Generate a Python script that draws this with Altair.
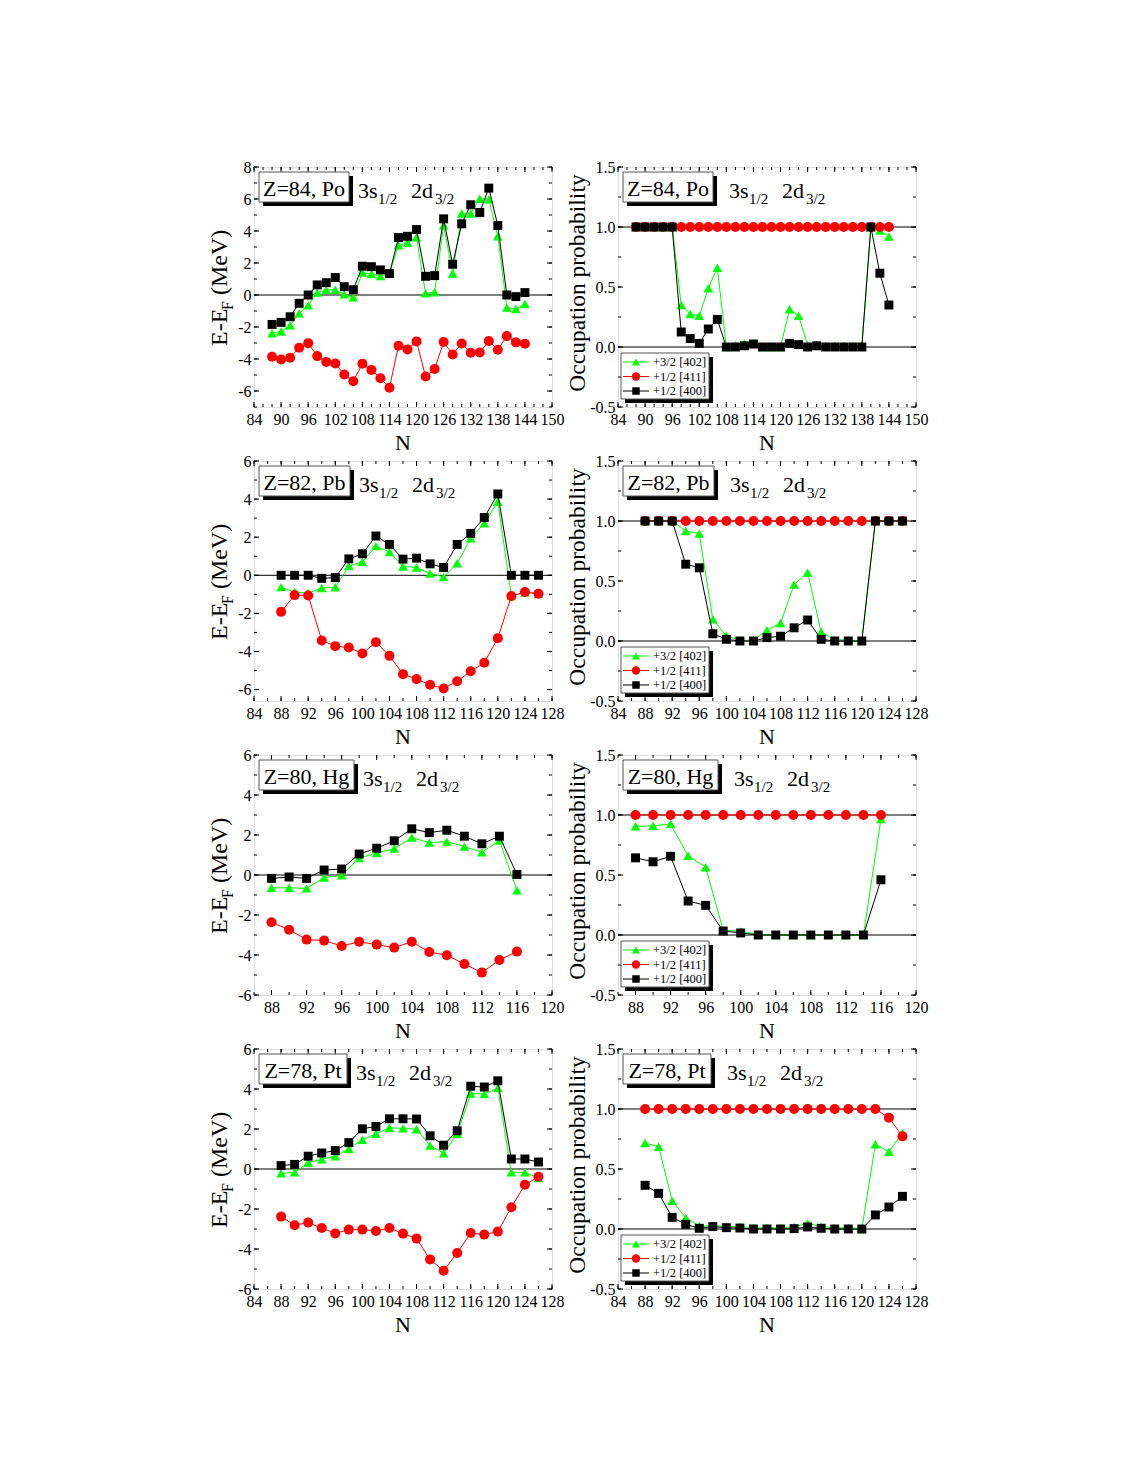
import altair as alt
import pandas as pd

FONT = "Liberation Serif"

# ---------------- data ----------------
N_PO = [88, 90, 92, 94, 96, 98, 100, 102, 104, 106, 108, 110, 112, 114, 116, 118, 120,
        122, 124, 126, 128, 130, 132, 134, 136, 138, 140, 142, 144]
PO_E_402 = [-2.40, -2.28, -1.90, -1.15, -0.65, 0.15, 0.31, 0.33, 0.04, -0.15, 1.40, 1.31, 1.19, 1.34,
            3.11, 3.26, 3.61, 0.10, 0.17, 4.36, 1.34, 5.09, 5.09, 6.01, 5.99, 3.67, -0.79, -0.88, -0.56]
PO_E_411 = [-3.86, -4.03, -3.92, -3.30, -3.01, -3.82, -4.18, -4.28, -4.97, -5.39, -4.30, -4.68, -5.20, -5.80,
            -3.17, -3.40, -2.90, -5.09, -4.63, -2.94, -3.72, -3.03, -3.61, -3.59, -2.88, -3.42, -2.57, -2.96, -3.05]
PO_E_400 = [-1.84, -1.71, -1.36, -0.52, 0.00, 0.63, 0.77, 1.09, 0.52, 0.33, 1.80, 1.77, 1.57, 1.34,
            3.59, 3.67, 4.09, 1.17, 1.21, 4.76, 1.92, 4.45, 5.64, 5.16, 6.68, 4.34, 0.00, -0.10, 0.15]
PO_P_402 = [1.0, 1.0, 1.0, 1.0, 1.0, 0.35, 0.275, 0.26, 0.49, 0.66, 0.0, 0.015, 0.03, 0.035, 0.0, 0.0, 0.0,
            0.315, 0.26, 0.015, 0.02, 0.01, 0.01, 0.01, 0.01, 0.005, 1.0, 0.97, 0.92]
PO_P_411 = [1.0, 1.0, 1.0, 1.0, 1.0, 1.0, 1.0, 1.0, 1.0, 1.0, 1.0, 1.0, 1.0, 1.0, 1.0, 1.0, 1.0,
            1.0, 1.0, 1.0, 1.0, 1.0, 1.0, 1.0, 1.0, 1.0, 1.0, 1.0, 1.0]
PO_P_400 = [1.0, 1.0, 1.0, 1.0, 1.0, 0.125, 0.07, 0.03, 0.15, 0.23, 0.0, 0.0, 0.01, 0.025, 0.0, 0.0, 0.0,
            0.03, 0.02, 0.0, 0.01, 0.0, 0.0, 0.0, 0.0, 0.0, 1.0, 0.615, 0.35]

N_PB = [88, 90, 92, 94, 96, 98, 100, 102, 104, 106, 108, 110, 112, 114, 116, 118, 120, 122, 124, 126]
PB_E_402 = [-0.62, -0.88, -0.93, -0.67, -0.63, 0.48, 0.71, 1.53, 1.22, 0.46, 0.41, 0.09, -0.09, 0.63,
            1.94, 2.73, 3.86, -1.09, -0.90, -0.97]
PB_E_411 = [-1.92, -1.04, -1.06, -3.42, -3.72, -3.79, -4.11, -3.51, -4.23, -5.19, -5.45, -5.75, -5.94, -5.56,
            -5.04, -4.59, -3.30, -1.09, -0.88, -0.97]
PB_E_400 = [0.0, 0.0, 0.0, -0.16, -0.12, 0.86, 1.13, 2.06, 1.62, 0.85, 0.90, 0.60, 0.41, 1.62,
            2.20, 3.03, 4.27, 0.0, 0.0, 0.0]
PB_P_402 = [1.0, 1.0, 1.0, 0.917, 0.895, 0.18, 0.044, 0.006, 0.006, 0.09, 0.15, 0.47, 0.57, 0.075,
            0.01, 0.01, 0.0, 1.0, 1.0, 1.0]
PB_P_411 = [1.0, 1.0, 1.0, 1.0, 1.0, 1.0, 1.0, 1.0, 1.0, 1.0, 1.0, 1.0, 1.0, 1.0, 1.0, 1.0, 1.0, 1.0, 1.0, 1.0]
PB_P_400 = [1.0, 1.0, 1.0, 0.64, 0.61, 0.06, 0.014, 0.0, 0.0, 0.028, 0.04, 0.11, 0.175, 0.014,
            0.0, 0.0, 0.0, 1.0, 1.0, 1.0]

N_HG = [88, 90, 92, 94, 96, 98, 100, 102, 104, 106, 108, 110, 112, 114, 116]
HG_E_402 = [-0.64, -0.64, -0.67, -0.13, -0.02, 0.85, 1.10, 1.32, 1.87, 1.62, 1.67, 1.42, 1.14, 1.72, -0.77]
HG_E_411 = [-2.36, -2.74, -3.23, -3.28, -3.55, -3.34, -3.48, -3.63, -3.34, -3.85, -4.01, -4.45, -4.88, -4.25, -3.83]
HG_E_400 = [-0.17, -0.10, -0.17, 0.25, 0.30, 1.05, 1.34, 1.71, 2.31, 2.12, 2.24, 1.94, 1.56, 1.94, 0.03]
HG_P_402 = [0.906, 0.91, 0.925, 0.66, 0.565, 0.04, 0.03, 0.005, 0.0, 0.0, 0.0, 0.0, 0.0, 0.0, 0.967]
HG_P_411 = [1.0, 1.0, 1.0, 1.0, 1.0, 1.0, 1.0, 1.0, 1.0, 1.0, 1.0, 1.0, 1.0, 1.0, 1.0]
HG_P_400 = [0.643, 0.61, 0.656, 0.283, 0.247, 0.033, 0.017, 0.0, 0.0, 0.0, 0.0, 0.0, 0.0, 0.0, 0.46]

N_PT = [88, 90, 92, 94, 96, 98, 100, 102, 104, 106, 108, 110, 112, 114, 116, 118, 120, 122, 124, 126]
PT_E_402 = [-0.22, -0.17, 0.32, 0.49, 0.64, 1.01, 1.46, 1.76, 2.06, 2.03, 1.99, 1.17, 0.79, 1.76,
            3.77, 3.75, 4.05, -0.17, -0.17, -0.45]
PT_E_411 = [-2.38, -2.81, -2.68, -2.95, -3.22, -3.03, -3.03, -3.10, -2.95, -3.23, -3.48, -4.52, -5.09, -4.20,
            -3.20, -3.28, -3.13, -1.91, -0.79, -0.39]
PT_E_400 = [0.17, 0.23, 0.64, 0.80, 0.92, 1.32, 2.01, 2.13, 2.51, 2.51, 2.50, 1.66, 1.19, 1.91,
            4.14, 4.10, 4.41, 0.50, 0.50, 0.35]
PT_P_402 = [0.717, 0.686, 0.236, 0.092, 0.025, 0.028, 0.02, 0.02, 0.01, 0.01, 0.01, 0.017, 0.047, 0.02,
            0.01, 0.01, 0.0, 0.706, 0.644, 0.80]
PT_P_411 = [1.0, 1.0, 1.0, 1.0, 1.0, 1.0, 1.0, 1.0, 1.0, 1.0, 1.0, 1.0, 1.0, 1.0, 1.0, 1.0, 1.0, 1.0, 0.928, 0.772]
PT_P_400 = [0.364, 0.297, 0.097, 0.039, 0.006, 0.02, 0.011, 0.008, 0.0, 0.0, 0.0, 0.003, 0.017, 0.006,
            0.0, 0.0, 0.0, 0.117, 0.183, 0.272]

LABELS = ["Z=84, Po", "Z=82, Pb", "Z=80, Hg", "Z=78, Pt"]
SERIES = ["402", "411", "400"]
LEGEND_TEXT = ["+3/2 [402]", "+1/2 [411]", "+1/2 [400]"]

X_TICKS_PO = [84, 90, 96, 102, 108, 114, 120, 126, 132, 138, 144, 150]
X_TICKS_PB = [84, 88, 92, 96, 100, 104, 108, 112, 116, 120, 124, 128]
X_TICKS_HG = [88, 92, 96, 100, 104, 108, 112, 116, 120]
X_TICKS_PT = [84, 88, 92, 96, 100, 104, 108, 112, 116, 120, 124, 128]
E_TICKS_PO = [-6, -4, -2, 0, 2, 4, 6, 8]
E_TICKS = [-6, -4, -2, 0, 2, 4, 6]
P_TICKS = [-0.5, 0.0, 0.5, 1.0, 1.5]

# ---------------- style ----------------
W, H = 298, 240
COLORS = {"402": "#00ff00", "411": "#ff0000", "400": "#000000"}
SHAPES = {"402": "triangle-up", "411": "circle", "400": "square"}
SIZES = {"402": 95, "411": 100, "400": 80}
ONE = [{"a": 1}]
TICK_FS = 16


def txt(text, x, y, size, align="left", baseline="alphabetic", angle=0):
    return alt.Chart(alt.Data(values=[{"t": text}])).mark_text(
        font=FONT, fontSize=size, align=align, baseline=baseline, angle=angle, color="black"
    ).encode(x=alt.value(x), y=alt.value(y), text="t:N")


def rect(x, x2, y, y2, fill, stroke=None):
    kw = dict(fill=fill, opacity=1)
    if stroke:
        kw.update(stroke=stroke, strokeWidth=1)
    return alt.Chart(alt.Data(values=ONE)).mark_rect(**kw).encode(
        x=alt.value(x), x2=alt.value(x2), y=alt.value(y), y2=alt.value(y2))


def panel(N, s402, s411, s400, xdom, xmaj, xmin, ydom, ymaj, ymin, yfmt, hlines,
          label, boxw, kind):
    xs = alt.Scale(domain=xdom, nice=False, zero=False)
    ys = alt.Scale(domain=ydom, nice=False, zero=False)
    xaxis = alt.Axis(values=xmaj, ticks=False, domain=False, grid=False, labelFont=FONT,
                     labelFontSize=TICK_FS, labelColor="black", labelPadding=4, title=None,
                     labelFlush=False, labelOverlap=False, format="d")
    yaxis = alt.Axis(values=ymaj, ticks=False, domain=False, grid=False, labelFont=FONT,
                     labelFontSize=TICK_FS, labelColor="black", labelPadding=3, title=None,
                     labelFlush=False, labelOverlap=False, format=yfmt,
                     labelExpr="replace(datum.label, '\u2212', '-')")
    layers = []
    # reference lines
    layers.append(alt.Chart(pd.DataFrame({"v": hlines})).mark_rule(color="black", strokeWidth=1)
                  .encode(y=alt.Y("v:Q", scale=ys, axis=yaxis)))
    # inward ticks on all four sides
    for vals, ln in ((xmin, 3), (xmaj, 5)):
        d = pd.DataFrame({"t": [v for v in vals if xdom[0] <= v <= xdom[1]]})
        for y0, y1 in ((H, H - ln), (0, ln)):
            layers.append(alt.Chart(d).mark_rule(color="black", strokeWidth=1).encode(
                x=alt.X("t:Q", scale=xs, axis=xaxis), y=alt.value(y0), y2=alt.value(y1)))
    for vals, ln in ((ymin, 3), (ymaj, 5)):
        d = pd.DataFrame({"t": [v for v in vals if ydom[0] <= v <= ydom[1]]})
        for x0, x1 in ((0, ln), (W, W - ln)):
            layers.append(alt.Chart(d).mark_rule(color="black", strokeWidth=1).encode(
                y=alt.Y("t:Q", scale=ys, axis=yaxis), x=alt.value(x0), x2=alt.value(x1)))
    # series
    for key, vals in (("402", s402), ("411", s411), ("400", s400)):
        d = pd.DataFrame({"N": N, "v": vals})
        enc = dict(x=alt.X("N:Q", scale=xs, axis=xaxis), y=alt.Y("v:Q", scale=ys, axis=yaxis))
        layers.append(alt.Chart(d).mark_line(color=COLORS[key], strokeWidth=1).encode(**enc))
        layers.append(alt.Chart(d).mark_point(shape=SHAPES[key], filled=True, size=SIZES[key],
                                              color=COLORS[key], opacity=1).encode(**enc))
    # label box with shadow
    layers.append(rect(9, 5 + boxw + 4, 9, 39, "black"))
    layers.append(rect(5, 5 + boxw, 5, 35, "white", "#555555"))
    layers.append(txt(label, 5 + boxw / 2, 29, 22, align="center"))
    sx = 5 + boxw + (9 if kind == "E" else 16)
    layers.append(txt("3s", sx, 31, 22))
    layers.append(txt("1/2", sx + 20, 37, 15))
    layers.append(txt("2d", sx + 53, 31, 22))
    layers.append(txt("3/2", sx + 77, 37, 15))
    # axis titles
    layers.append(txt("N", W / 2, H + 43, 22, align="center"))
    if kind == "E":
        y0 = 179
        layers.append(txt("E-E", -27, y0, 24, angle=270))
        layers.append(txt("F", -21, y0 - 36, 16, angle=270))
        layers.append(txt("(MeV)", -27, y0 - 36 - 9 - 6, 24, angle=270))
    else:
        layers.append(txt("Occupation probability", -33, 116, 23.5, align="center", angle=270))
        # legend
        layers.append(rect(7, 95, 190, 236, "black"))
        layers.append(rect(3, 91, 186, 232, "white", "#555555"))
        for i, key in enumerate(SERIES):
            yy = 195 + i * 14.5
            layers.append(alt.Chart(alt.Data(values=ONE)).mark_rule(
                color=COLORS[key], strokeWidth=1).encode(
                x=alt.value(5), x2=alt.value(31), y=alt.value(yy)))
            layers.append(alt.Chart(alt.Data(values=ONE)).mark_point(
                shape=SHAPES[key], filled=True, size=SIZES[key] * 0.7, color=COLORS[key],
                opacity=1).encode(x=alt.value(18), y=alt.value(yy)))
            layers.append(txt(LEGEND_TEXT[i], 35, yy, 12.5, baseline="middle"))
    return alt.layer(*layers).properties(width=W, height=H)


def minor(a, b, step):
    out = []
    v = a
    while v <= b + 1e-9:
        out.append(round(v, 4))
        v += step
    return out


BOXW = [90, 91, 95, 88]
rows_spec = [
    (N_PO, (PO_E_402, PO_E_411, PO_E_400), (PO_P_402, PO_P_411, PO_P_400), [84, 150], X_TICKS_PO,
     [-7, 8], E_TICKS_PO),
    (N_PB, (PB_E_402, PB_E_411, PB_E_400), (PB_P_402, PB_P_411, PB_P_400), [84, 128], X_TICKS_PB,
     [-6.6, 6], E_TICKS),
    (N_HG, (HG_E_402, HG_E_411, HG_E_400), (HG_P_402, HG_P_411, HG_P_400), [86, 120], X_TICKS_HG,
     [-6, 6], E_TICKS),
    (N_PT, (PT_E_402, PT_E_411, PT_E_400), (PT_P_402, PT_P_411, PT_P_400), [84, 128], X_TICKS_PT,
     [-6, 6], E_TICKS),
]

panels = []
for i, (N, E, P, xdom, xt, edom, et) in enumerate(rows_spec):
    xm = minor(xdom[0], xdom[1], 2)
    panels.append(panel(N, *E, xdom, xt, xm, edom, et, minor(-7, 8, 1), "d", [0], LABELS[i],
                        BOXW[i], "E"))
    panels.append(panel(N, *P, xdom, xt, xm, [-0.5, 1.5], P_TICKS, minor(-0.5, 1.5, 0.25), ".1f",
                        [0, 1], LABELS[i], BOXW[i], "P"))

chart = alt.concat(*panels, columns=2, spacing={"row": 54, "column": 66}, bounds="flush").properties(
    padding={"left": 199, "top": 150, "right": 5, "bottom": 5}
).configure_view(stroke="black", strokeWidth=1).configure(background="white")

chart.save("out.html", embed_options={"renderer": "svg", "actions": False})
